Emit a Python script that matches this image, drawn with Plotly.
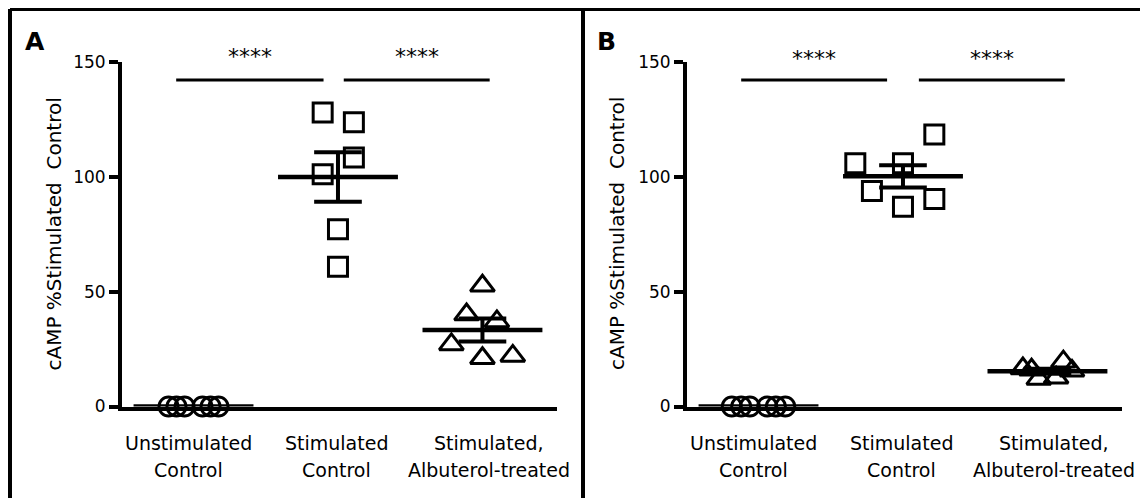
import numpy as np
import plotly.graph_objects as go

# ---------------- data ----------------
categories = [["Unstimulated", "Control"], ["Stimulated", "Control"], ["Stimulated,", "Albuterol-treated"]]
y_ticks = [0, 50, 100, 150]
y_title = "cAMP %Stimulated\u00a0 Control"
panel_letters = ["A", "B"]

a_unstim = [0, 0, 0, 0, 0, 0]
a_stim = [127.9, 123.7, 108.3, 101.0, 77.1, 60.8]
a_albuterol = [52.5, 40.0, 37.0, 27.0, 21.0, 22.0]

b_unstim = [0, 0, 0, 0, 0, 0]
b_stim = [118.3, 105.8, 105.8, 93.8, 86.9, 90.3]
b_albuterol = [16.5, 16.0, 12.0, 12.5, 19.5, 15.5]

significance = ["****", "****"]

# horizontal scatter (jitter) of points within each column, in category units
a_jitter = [[-0.173, -0.118, -0.062, 0.062, 0.118, 0.173],
            [-0.106, 0.11, 0.11, -0.106, 0.0, 0.0],
            [0.0, -0.11, 0.1, -0.215, 0.0, 0.21]]
b_jitter = [[-0.185, -0.12, -0.06, 0.06, 0.12, 0.185],
            [0.217, -0.33, 0.0, -0.215, 0.0, 0.217],
            [-0.17, -0.11, -0.06, 0.06, 0.11, 0.17]]

# comparison brackets (category units) and their height (data units)
a_brackets = [(-0.12, 0.90), (1.04, 2.05)]
b_brackets = [(-0.12, 0.89), (1.11, 2.12)]
bracket_y = 142.0

# ---------------- style / layout ----------------
FONT = "DejaVu Sans"
OFF = 8                      # default page (body) margin of the html page
PAGE_W, PAGE_H = 1148, 498
W, H = PAGE_W - OFF, PAGE_H - OFF


def px(xp):                  # page pixel -> paper fraction
    return (xp - OFF) / W


def py(yp):
    return 1 - (yp - OFF) / H


symbols = ["circle-open", "square-open", "triangle-up-open"]
marker_sizes = [19, 19, 21]
MEAN_HALF = 0.415
CAP_HALF = 0.165
label_xshift = [-5, -1, 7]

panels = [
    dict(x0=122, x1=557, title_x=53.5, letter_x=35, star_y=56.7),
    dict(x0=687, x1=1122, title_x=617, letter_x=606, star_y=58.3),
]
Y_TOP, Y_BOT = 61.7, 406.5
X_RANGE = [-0.495, 2.516]

fig = go.Figure()
annotations = []

panel_data = [
    ([a_unstim, a_stim, a_albuterol], a_jitter, a_brackets),
    ([b_unstim, b_stim, b_albuterol], b_jitter, b_brackets),
]

for p, (groups, jit, brackets) in enumerate(panel_data):
    xa = "x" if p == 0 else "x2"
    ya = "y" if p == 0 else "y2"
    for i, vals in enumerate(groups):
        vals = np.asarray(vals, dtype=float)
        xs = i + np.asarray(jit[i])
        fig.add_trace(go.Scatter(
            x=xs, y=vals, mode="markers", xaxis=xa, yaxis=ya,
            marker=dict(symbol=symbols[i], size=marker_sizes[i], color="black",
                        line=dict(width=3, color="black")),
            cliponaxis=False, showlegend=False, hoverinfo="y"))
        m = vals.mean()
        sem = vals.std(ddof=1) / np.sqrt(len(vals))
        fig.add_trace(go.Scatter(
            x=[i - MEAN_HALF, i + MEAN_HALF], y=[m, m], mode="lines",
            xaxis=xa, yaxis=ya, line=dict(color="black", width=4.5),
            showlegend=False, hoverinfo="skip", cliponaxis=False))
        if sem > 0:
            fig.add_trace(go.Scatter(
                x=[i - CAP_HALF, i + CAP_HALF, None, i, i, None, i - CAP_HALF, i + CAP_HALF],
                y=[m + sem, m + sem, None, m + sem, m - sem, None, m - sem, m - sem],
                mode="lines", xaxis=xa, yaxis=ya,
                line=dict(color="black", width=4),
                showlegend=False, hoverinfo="skip", cliponaxis=False))
    pd_ = panels[p]
    for k, (bx0, bx1) in enumerate(brackets):
        fig.add_trace(go.Scatter(
            x=[bx0, bx1], y=[bracket_y, bracket_y], mode="lines",
            xaxis=xa, yaxis=ya, line=dict(color="black", width=3),
            showlegend=False, hoverinfo="skip", cliponaxis=False))
        annotations.append(dict(
            x=(bx0 + bx1) / 2, y=py(pd_["star_y"]), xref=xa, yref="paper",
            text=significance[k], showarrow=False,
            font=dict(family=FONT, size=22, color="black"),
            xanchor="center", yanchor="middle"))
    for i, (l1, l2) in enumerate(categories):
        for j, txt in enumerate((l1, l2)):
            annotations.append(dict(
                x=i, y=py(442.5 + 27.5 * j), xref=xa, yref="paper",
                text=txt, showarrow=False, xshift=label_xshift[i],
                font=dict(family=FONT, size=19, color="black"),
                xanchor="center", yanchor="middle"))
    annotations.append(dict(
        x=px(pd_["title_x"]), y=py(234), xref="paper", yref="paper",
        text=y_title, textangle=-90, showarrow=False,
        font=dict(family=FONT, size=20, color="black"),
        xanchor="center", yanchor="middle"))
    annotations.append(dict(
        x=px(pd_["letter_x"]), y=py(41), xref="paper", yref="paper",
        text="<b>%s</b>" % panel_letters[p], showarrow=False,
        font=dict(family=FONT, size=25, color="black"),
        xanchor="center", yanchor="middle"))

axis_common_x = dict(range=X_RANGE, showgrid=False, zeroline=False, showline=True,
                     linecolor="black", linewidth=3.5, ticks="", showticklabels=False,
                     fixedrange=True, automargin=False)
axis_common_y = dict(range=[0, 150], showgrid=False, zeroline=False, showline=True,
                     linecolor="black", linewidth=4, ticks="outside", ticklen=9,
                     tickwidth=3.5, tickcolor="black", tickvals=y_ticks,
                     tickfont=dict(family=FONT, size=17, color="black"),
                     fixedrange=True, automargin=False)

ydom = [py(Y_BOT), py(Y_TOP)]
fig.update_layout(
    xaxis=dict(domain=[px(panels[0]["x0"]), px(panels[0]["x1"])], anchor="y", **axis_common_x),
    yaxis=dict(domain=ydom, anchor="x", **axis_common_y),
    xaxis2=dict(domain=[px(panels[1]["x0"]), px(panels[1]["x1"])], anchor="y2", **axis_common_x),
    yaxis2=dict(domain=ydom, anchor="x2", **axis_common_y),
)

frame_w = 4
shapes = [
    dict(type="line", xref="paper", yref="paper", x0=px(10), x1=px(10), y0=py(9), y1=-0.05,
         line=dict(color="black", width=frame_w)),
    dict(type="line", xref="paper", yref="paper", x0=px(10), x1=1.05, y0=py(9), y1=py(9),
         line=dict(color="black", width=frame_w)),
    dict(type="line", xref="paper", yref="paper", x0=px(583), x1=px(583), y0=py(9), y1=-0.05,
         line=dict(color="black", width=frame_w)),
]

fig.update_layout(
    template="none",
    width=W, height=H, margin=dict(l=0, r=0, t=0, b=0, pad=0, autoexpand=False),
    paper_bgcolor="white", plot_bgcolor="white",
    annotations=annotations, shapes=shapes, showlegend=False,
    font=dict(family=FONT, color="black"),
)

fig.write_html("out.html", config={"displayModeBar": False})
